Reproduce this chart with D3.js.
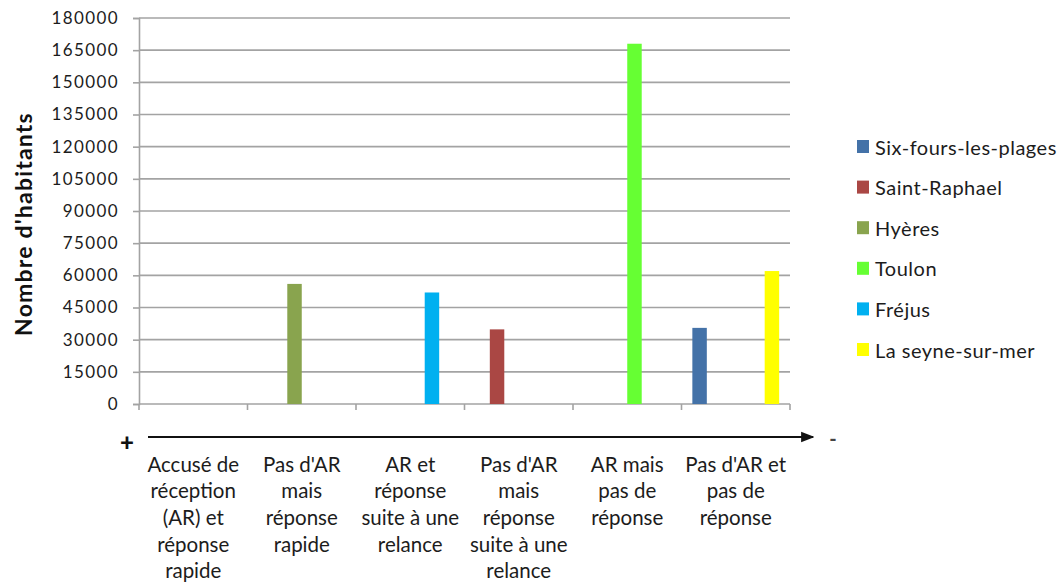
<!DOCTYPE html>
<html>
<head>
<meta charset="utf-8">
<script src="https://cdn.jsdelivr.net/npm/d3@7"></script>
<style>
  html, body { margin: 0; padding: 0; background: #fff; }
  svg { display: block; font-family: Lato, "Open Sans", sans-serif; }
</style>
</head>
<body>
<svg id="chart" width="1064" height="585"></svg>
<script>
// Categories of reply behaviour, from best (+) to worst (-)
const categories = [
  ["Accusé de", "réception", "(AR) et", "réponse", "rapide"],
  ["Pas d'AR", "mais", "réponse", "rapide"],
  ["AR et", "réponse", "suite à une", "relance"],
  ["Pas d'AR", "mais", "réponse", "suite à une", "relance"],
  ["AR mais", "pas de", "réponse"],
  ["Pas d'AR et", "pas de", "réponse"]
];
const towns = ["Six-fours-les-plages", "Saint-Raphael", "Hyères", "Toulon", "Fréjus", "La seyne-sur-mer"];
const townColors = ["#4472a8", "#aa4744", "#89a44e", "#66ff33", "#00b0f0", "#ffff00"];
// Population of each town, placed in the category of its reply (null = no bar)
const sixFours   = [null, null, null, null, null, 35500];
const saintRaph  = [null, null, null, 34800, null, null];
const hyeres     = [null, 56000, null, null, null, null];
const toulon     = [null, null, null, null, 168000, null];
const frejus     = [null, null, 52000, null, null, null];
const laSeyne    = [null, null, null, null, null, 62000];
const seriesValues = [sixFours, saintRaph, hyeres, toulon, frejus, laSeyne];
const yTicks = d3.range(0, 180001, 15000);

const svg = d3.select("#chart");
const plotLeft = 139, plotRight = 790, plotTop = 18, plotBottom = 404;

const x = d3.scaleBand().domain(d3.range(categories.length)).range([plotLeft, plotRight]).padding(0);
const xs = d3.scaleBand().domain(d3.range(towns.length)).range([0, x.bandwidth()])
  .paddingInner(0).paddingOuter(0.75);
const y = d3.scaleLinear().domain([0, 180000]).range([plotBottom, plotTop]);

const grey = "#a3a3a3";
const ink = "#1c1c1c";

// horizontal gridlines
svg.append("g").selectAll("line").data(yTicks.slice(1)).join("line")
  .attr("x1", plotLeft).attr("x2", plotRight)
  .attr("y1", d => y(d)).attr("y2", d => y(d))
  .attr("stroke", grey).attr("stroke-width", 1.6);

// y axis
const yAxis = svg.append("g").attr("transform", `translate(${plotLeft},0)`)
  .call(d3.axisLeft(y).tickValues(yTicks).tickSize(6).tickPadding(14).tickFormat(d3.format("d")));
yAxis.select(".domain").attr("stroke", grey).attr("stroke-width", 1.6);
yAxis.selectAll(".tick line").attr("stroke", grey).attr("stroke-width", 1.6);
yAxis.selectAll(".tick text").attr("fill", ink).style("font-size", "17px")
  .style("letter-spacing", "1.4px")
  .style("font-family", "Lato, sans-serif");

// x axis baseline with ticks at category boundaries
const bounds = d3.range(categories.length + 1).map(i => plotLeft + i * x.step());
svg.append("line").attr("x1", plotLeft).attr("x2", plotRight).attr("y1", plotBottom).attr("y2", plotBottom)
  .attr("stroke", grey).attr("stroke-width", 1.6);
svg.append("g").selectAll("line").data(bounds).join("line")
  .attr("x1", d => d).attr("x2", d => d).attr("y1", plotBottom).attr("y2", plotBottom + 6)
  .attr("stroke", grey).attr("stroke-width", 1.6);

// bars
seriesValues.forEach((vals, s) => {
  svg.append("g").selectAll("rect")
    .data(vals.map((v, c) => ({ v, c })).filter(d => d.v != null))
    .join("rect")
    .attr("x", d => x(d.c) + xs(s))
    .attr("width", xs.bandwidth())
    .attr("y", d => y(d.v))
    .attr("height", d => y(0) - y(d.v))
    .attr("fill", townColors[s]);
});

// ranking arrow under the axis
const defs = svg.append("defs");
defs.append("marker").attr("id", "arrowHead").attr("viewBox", "0 0 10 10")
  .attr("refX", 9).attr("refY", 5).attr("markerWidth", 6).attr("markerHeight", 6)
  .attr("markerUnits", "strokeWidth").attr("orient", "auto")
  .append("path").attr("d", "M0,1 L10,5 L0,9 Z").attr("fill", "#111");
svg.append("line").attr("x1", 148).attr("x2", 813).attr("y1", 437).attr("y2", 437)
  .attr("stroke", "#111").attr("stroke-width", 2.2).attr("marker-end", "url(#arrowHead)");
svg.append("text").attr("x", 127).attr("y", 451).attr("text-anchor", "middle")
  .style("font-size", "24px").style("font-weight", "900").attr("fill", "#111").text("+");
svg.append("text").attr("x", 833).attr("y", 446).attr("text-anchor", "middle")
  .style("font-size", "20px").style("font-weight", "bold").attr("fill", "#444").text("-");

// category labels
const catLabels = svg.append("g").selectAll("text").data(categories).join("text")
  .attr("text-anchor", "middle")
  .attr("fill", ink)
  .style("font-size", "20.5px");
catLabels.each(function(lines, i) {
  d3.select(this).selectAll("tspan").data(lines).join("tspan")
    .attr("x", x(i) + x.bandwidth() / 2)
    .attr("y", (d, k) => 471.5 + k * 26.7)
    .text(d => d);
});

// y axis title
svg.append("text")
  .attr("transform", "translate(32,224) rotate(-90)")
  .attr("text-anchor", "middle")
  .style("font-size", "23px").style("font-weight", "bold")
  .style("letter-spacing", "1.2px").attr("fill", "#111")
  .text("Nombre d'habitants");

// legend
const legend = svg.append("g").selectAll("g").data(towns).join("g")
  .attr("transform", (d, i) => `translate(857,${147 + i * 40.6})`);
legend.append("rect").attr("x", 0).attr("y", -7).attr("width", 12).attr("height", 13)
  .attr("fill", (d, i) => townColors[i]);
legend.append("text").attr("x", 18).attr("y", 7.5)
  .attr("fill", ink).style("font-size", "20px").style("letter-spacing", "0.5px").text(d => d);
</script>
</body>
</html>
